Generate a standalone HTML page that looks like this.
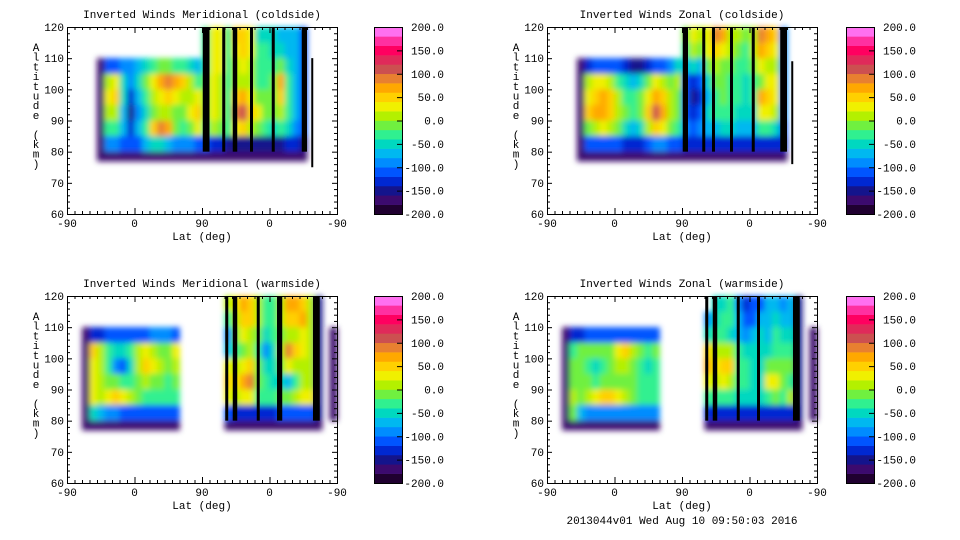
<!DOCTYPE html>
<html><head><meta charset="utf-8"><style>
html,body{margin:0;padding:0;background:#fff;}
svg{display:block;font-family:"Liberation Mono","DejaVu Sans Mono",monospace;}
</style></head><body>
<svg id="chart" width="960" height="540" viewBox="0 0 960 540" xmlns="http://www.w3.org/2000/svg">
<defs><filter id="blur" x="-5%" y="-5%" width="110%" height="110%"><feGaussianBlur stdDeviation="3"/></filter></defs>
</svg>
<script>
var n = null;
var levels = [-200,-180,-160,-140,-120,-100,-80,-60,-40,-20,0,20,40,60,80,100,120,140,160,180,200];
var bandColors = ['#200030','#3c0a6e','#14148c','#0028d2','#0055ff','#008cff','#00b8f0','#00d8c0','#30f090','#70f040','#b4f000','#f0f000','#ffd000','#ffa800','#e88030','#cc5050','#e02a5a','#ff0060','#ff30a0','#ff70f0'];
var cbLabels = ['200.0','150.0','100.0','50.0','0.0','-50.0','-100.0','-150.0','-200.0'];
var cbValues = [200,150,100,50,0,-50,-100,-150,-200];
var altTicks = [60,70,80,90,100,110,120];
var latTickDeg = [0,90,180,270,360];
var latTickLabels = ['-90','0','90','0','-90'];
var rowAlts = [115,110,105,100,95,90,85,80,75];

var tlLeftStart = 4;
var tlLeft = [
[n,n,n,n,n,n,n,n,n,n,n,n,n,n],
[n,n,n,n,n,n,n,n,n,n,n,n,n,n],
[-170,-120,-110,-100,-100,-80,-60,-30,-20,-20,-30,-40,-60,-80],
[-170,10,30,-60,-100,-60,-10,30,70,80,70,40,0,-30],
[-170,30,50,-60,-130,-80,-30,0,20,40,30,10,0,20],
[-170,0,10,-80,-150,-100,-60,-20,0,0,-20,-10,20,40],
[-170,-40,-40,-80,-130,-80,-30,40,80,60,-20,-40,-10,20],
[-170,-90,-100,-110,-120,-110,-80,-60,-60,-80,-90,-100,-100,-110],
[-180,-180,-180,-180,-180,-180,-180,-180,-180,-180,-180,-180,-180,-180]];
var tlRightStart = 18;
var tlRight = [
[-40,20,30,-40,40,40,30,-50,-50,-60,-70,-70,-80,-120],
[-40,20,30,-40,30,40,20,-40,-40,-50,-60,-70,-80,-120],
[-30,20,20,-40,0,20,10,-30,-30,-40,-10,-60,-80,-120],
[-20,20,10,-30,10,10,0,-40,-30,-20,60,-30,-80,-120],
[-20,20,10,-30,50,70,30,-20,-20,-10,40,-30,-80,-120],
[-20,20,0,-30,80,100,40,20,-10,-20,0,-40,-80,-120],
[-30,0,-20,-40,30,40,0,-20,-40,-50,-30,-60,-90,-120],
[-120,-130,-140,-150,-150,-160,-160,-160,-160,-160,-150,-140,-140,-150],
[-180,-180,-180,-180,-180,-180,-180,-180,-180,-180,-180,-180,-180,-180]];

var trLeftStart = 4;
var trLeft = [
[n,n,n,n,n,n,n,n,n,n,n,n,n,n],
[n,n,n,n,n,n,n,n,n,n,n,n,n,n],
[-170,-130,-120,-110,-110,-120,-140,-150,-150,-140,-120,-110,-90,-60],
[-170,10,20,20,0,-30,-60,-80,-60,-20,20,10,-10,0],
[-170,30,50,70,40,0,-30,-40,-20,30,60,40,0,-10],
[-170,40,60,70,50,10,-20,-30,-10,40,100,60,10,-20],
[-170,-10,10,20,10,-20,-50,-70,-50,0,40,20,-20,-40],
[-170,-110,-110,-110,-110,-120,-130,-140,-140,-120,-100,-100,-110,-120],
[-180,-180,-180,-180,-180,-180,-180,-180,-180,-180,-180,-180,-180,-180]];
var trRightStart = 18;
var trRight = [
[-20,20,0,30,80,60,10,0,-20,0,80,70,40,-100],
[-40,0,-20,20,40,30,0,-10,-30,0,60,40,20,-100],
[-80,-60,-80,-20,0,-10,-20,-30,-40,-20,20,0,10,-100],
[-120,-130,-120,-60,-20,-20,-30,-40,-50,-30,-10,20,30,-100],
[-120,-150,-130,-80,-40,-20,-30,-40,-50,-30,60,50,30,-100],
[-110,-140,-110,-60,-40,-30,-40,-50,-60,-50,30,30,10,-100],
[-100,-110,-100,-80,-70,-60,-60,-70,-70,-70,-40,-30,-50,-110],
[-140,-140,-140,-140,-140,-140,-140,-140,-140,-140,-130,-130,-140,-140],
[-180,-180,-180,-180,-180,-180,-180,-180,-180,-180,-180,-180,-180,-180]];

var blLeftStart = 2;
var blLeft = [
[n,n,n,n,n,n,n,n,n,n,n,n,n],
[n,n,n,n,n,n,n,n,n,n,n,n,n],
[-170,-140,-130,-120,-110,-110,-120,-120,-110,-100,-100,-100,-110],
[-170,40,10,-30,-60,-60,-30,0,20,0,-20,-10,20],
[-170,30,10,-30,-90,-110,-50,0,50,30,0,-20,10],
[-170,20,0,-10,-20,-40,-40,-20,0,-10,-20,-30,-20],
[-170,20,10,30,40,30,0,-20,-30,-30,-30,-40,-40],
[-170,-60,-80,-90,-100,-110,-110,-110,-110,-110,-110,-110,-110],
[-180,-180,-180,-180,-180,-180,-180,-180,-180,-180,-180,-180,-180]];
var blRightStart = 21;
var blRight = [
[0,20,60,50,0,-40,-30,0,70,60,40,0,-150,n,n],
[-40,10,50,40,0,-40,-30,0,40,50,60,0,-150,n,n],
[-100,-20,20,10,-20,-50,-40,-20,0,10,30,0,-150,n,-180],
[-80,-40,-20,0,-40,-90,-60,0,80,40,20,0,-150,n,-180],
[20,10,20,50,-20,-60,-60,-20,20,0,10,0,-150,n,-180],
[40,30,60,80,-10,-40,-50,-50,-80,-40,0,10,-150,n,-180],
[20,10,20,30,-30,-40,-40,-20,-20,0,30,20,-150,n,-180],
[-120,-130,-140,-140,-140,-140,-140,-120,-110,-110,-110,-110,-150,n,-180],
[-180,-180,-180,-180,-180,-180,-180,-170,-170,-170,-170,-170,-170,n,n]];

var brLeftStart = 2;
var brLeft = [
[n,n,n,n,n,n,n,n,n,n,n,n,n],
[n,n,n,n,n,n,n,n,n,n,n,n,n],
[-170,-140,-130,-120,-120,-120,-120,-120,-120,-110,-110,-110,-110],
[-170,-30,-20,-10,-20,-20,-10,20,40,0,-20,-40,-20],
[-170,-20,-20,-40,-60,-30,-10,0,10,-20,-40,-50,-40],
[-170,-10,-10,-20,-30,-20,-10,-10,-20,-20,-30,-40,-40],
[-170,0,-10,10,30,40,40,20,0,-20,-30,-40,-40],
[-170,-20,-80,-90,-100,-100,-100,-100,-100,-100,-100,-100,-100],
[-180,-180,-180,-180,-180,-180,-180,-180,-180,-180,-180,-180,-180]];
var brRightStart = 21;
var brRight = [
[n,-60,-60,-40,-100,-130,-120,-110,-80,-80,-90,-80,-150,n,n],
[-100,-60,-40,-40,-80,-120,-110,-80,-70,-60,-80,-70,-150,n,n],
[-60,-40,-40,-50,-70,-90,-80,-60,-70,-40,-60,-60,-150,n,-180],
[40,0,0,10,-40,-50,-60,-50,-50,-40,-40,-30,-150,n,-180],
[60,20,40,50,-30,-40,-50,-50,-20,-10,-20,-10,-150,n,-180],
[20,0,20,0,-40,-40,-50,-50,20,30,-10,-30,-150,n,-180],
[-40,-30,-30,-40,-50,-50,-50,-50,-30,-10,-30,0,-150,n,-180],
[-130,-140,-140,-140,-140,-140,-140,-140,-130,-130,-130,-130,-150,n,-180],
[-180,-180,-180,-180,-180,-180,-180,-170,-170,-170,-170,-170,-170,n,n]];

var tlStripes = [[181,190],[207,211],[221,227],[244,248],[273,277],[313,320]];
var trStripes = [[181,188],[207,211],[220,224],[244,248],[273,277],[311,320]];
var blStripes = [[211,215],[221,227],[253,257],[280,287],[328,337]];
var brStripes = [[211,215],[221,227],[253,257],[280,284],[328,337]];

var panels = [
 {name:'meridional-coldside', title:'Inverted Winds Meridional (coldside)', px:67, py:27, lS:tlLeftStart, l:tlLeft, rS:tlRightStart, r:tlRight, st:tlStripes, line:[327,75,110], cbx:374},
 {name:'zonal-coldside', title:'Inverted Winds Zonal (coldside)', px:547, py:27, lS:trLeftStart, l:trLeft, rS:trRightStart, r:trRight, st:trStripes, line:[327,76,109], cbx:846},
 {name:'meridional-warmside', title:'Inverted Winds Meridional (warmside)', px:67, py:296, lS:blLeftStart, l:blLeft, rS:blRightStart, r:blRight, st:blStripes, line:null, cbx:374},
 {name:'zonal-warmside', title:'Inverted Winds Zonal (warmside)', px:547, py:296, lS:brLeftStart, l:brLeft, rS:brRightStart, r:brRight, st:brStripes, line:null, cbx:846}
];

var NS = 'http://www.w3.org/2000/svg';
var svg = document.getElementById('chart');
function mk(tag, attrs, parent){var e=document.createElementNS(NS,tag);for(var k in attrs)e.setAttribute(k,attrs[k]);(parent||svg).appendChild(e);return e;}
function colorOf(v){var i=Math.floor((v+200)/20);if(i<0)i=0;if(i>19)i=19;return bandColors[i];}

var PW=270, PH=187;
panels.forEach(function(p){
  var g = mk('g',{});
  
  
  function xs(d){return p.px + d*PW/360;}
  function ys(a){return p.py + (120-a)*PH/60;}
  var hm = mk('g',{filter:'url(#blur)'},g);
  
  
  [[p.lS,p.l],[p.rS,p.r]].forEach(function(blk){
    blk[1].forEach(function(row,ri){
      row.forEach(function(v,ci){
        if(v===null) return;
        var c = blk[0]+ci, a = rowAlts[ri];
        var top = a+5, bot = a;
        if(ri===rowAlts.length-1) bot = 77;
        var cell = mk('rect',{x:xs(c*10).toFixed(2), y:ys(top).toFixed(2), width:(PW/36+0.4).toFixed(2), height:(ys(bot)-ys(top)+0.4).toFixed(2), fill:colorOf(v)},hm);
        
        
      });
    });
  });
  p.st.forEach(function(s){
    var rr = mk('rect',{x:xs(s[0]), y:ys(120), width:xs(s[1])-xs(s[0]), height:ys(80)-ys(120), fill:'#000'},g);
    
    
  });
  if(p.line){
    var ln = mk('line',{x1:xs(p.line[0]),x2:xs(p.line[0]),y1:ys(p.line[1]),y2:ys(p.line[2]),stroke:'#000','stroke-width':2},g);
    
    
  }
  var fr = mk('rect',{x:p.px+0.5,y:p.py+0.5,width:PW,height:PH,fill:'none',stroke:'#000','stroke-width':1},g);
  
  
  for(var a=60;a<=120;a+=2){
    var L = (a%10===0)?5:3;
    mk('line',{x1:p.px,x2:p.px+L,y1:ys(a)+0.5,y2:ys(a)+0.5,stroke:'#000'},g);
    mk('line',{x1:p.px+PW,x2:p.px+PW-L,y1:ys(a)+0.5,y2:ys(a)+0.5,stroke:'#000'},g);
  }
  altTicks.forEach(function(a){
    var t = mk('text',{x:p.px-3,y:ys(a)+4,'font-size':11,'text-anchor':'end',fill:'#000'},g);
    t.textContent = a;
    
    
  });
  for(var d=0;d<=360;d+=10){
    var L2 = (d%90===0)?6:3;
    mk('line',{x1:xs(d)+0.5,x2:xs(d)+0.5,y1:p.py+PH,y2:p.py+PH-L2,stroke:'#000'},g);
    mk('line',{x1:xs(d)+0.5,x2:xs(d)+0.5,y1:p.py,y2:p.py+L2,stroke:'#000'},g);
  }
  latTickDeg.forEach(function(d,i){
    var t = mk('text',{x:xs(d),y:p.py+PH+13,'font-size':11,'text-anchor':'middle',fill:'#000'},g);
    t.textContent = latTickLabels[i];
    
    
  });
  var xt = mk('text',{x:p.px+PW/2,y:p.py+PH+26,'font-size':11,'text-anchor':'middle',fill:'#000'},g);
  xt.textContent='Lat (deg)';
  
  
  var tt = mk('text',{x:p.px+PW/2,y:p.py-9,'font-size':11,'text-anchor':'middle',fill:'#000'},g);
  tt.textContent=p.title;
  
  
  var yl = mk('text',{x:p.px-31,y:p.py+23,'font-size':11,'text-anchor':'middle',fill:'#000'},g);
  
  
  'Altitude (km)'.split('').forEach(function(ch,i){var ts=mk('tspan',{x:p.px-31,y:p.py+24+i*9.7},yl);ts.textContent=ch;});
  var cb = mk('g',{},g);
  
  
  function cy(v){return p.py + (200-v)*PH/400;}
  for(var i=0;i<20;i++){
    mk('rect',{x:p.cbx,y:cy(levels[i+1]),width:29,height:cy(levels[i])-cy(levels[i+1])+0.3,fill:bandColors[i]},cb);
  }
  mk('rect',{x:p.cbx+0.5,y:p.py+0.5,width:28,height:PH,fill:'none',stroke:'#000'},cb);
  cbValues.forEach(function(v,i){
    mk('line',{x1:p.cbx+29,x2:p.cbx+23,y1:cy(v)+0.5,y2:cy(v)+0.5,stroke:'#000'},cb);
    var t = mk('text',{x:p.cbx+70,y:cy(v)+4,'font-size':11,'text-anchor':'end',fill:'#000'},cb);
    t.textContent = cbLabels[i];
    
    
  });
});
var ft = mk('text',{x:682,y:524,'font-size':11,'text-anchor':'middle',fill:'#000'});
ft.textContent='2013044v01 Wed Aug 10 09:50:03 2016';


</script>
</body></html>
